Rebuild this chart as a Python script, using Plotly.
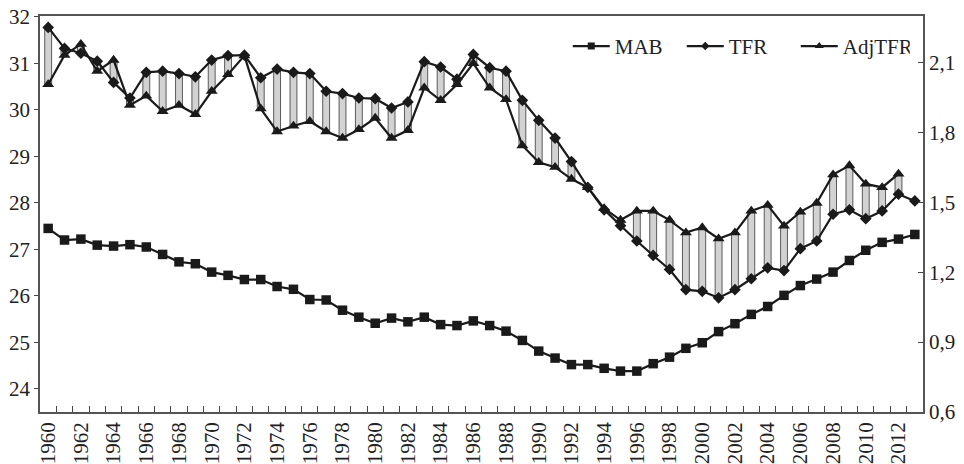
import plotly.graph_objects as go

years = list(range(1960, 2014))

mab = [27.45, 27.20, 27.22, 27.09, 27.07, 27.10, 27.05, 26.89, 26.73, 26.69,
       26.51, 26.44, 26.35, 26.35, 26.20, 26.14, 25.92, 25.91, 25.69, 25.54,
       25.41, 25.52, 25.44, 25.54, 25.38, 25.36, 25.46, 25.36, 25.24, 25.04,
       24.81, 24.66, 24.52, 24.52, 24.44, 24.38, 24.38, 24.54, 24.68, 24.87,
       24.99, 25.23, 25.40, 25.60, 25.77, 26.01, 26.22, 26.36, 26.51, 26.76,
       26.98, 27.15, 27.22, 27.32]

tfr = [2.251, 2.161, 2.140, 2.106, 2.015, 1.948, 2.058, 2.063, 2.053, 2.039,
       2.111, 2.130, 2.132, 2.035, 2.072, 2.058, 2.053, 1.977, 1.967, 1.948,
       1.945, 1.905, 1.931, 2.104, 2.081, 2.029, 2.135, 2.078, 2.063, 1.938,
       1.852, 1.776, 1.675, 1.564, 1.468, 1.400, 1.334, 1.272, 1.212, 1.125,
       1.118, 1.090, 1.125, 1.172, 1.219, 1.207, 1.301, 1.334, 1.449, 1.468,
       1.430, 1.463, 1.535, 1.506]

adj_tfr = [2.006, 2.132, 2.179, 2.063, 2.111, 1.917, 1.957, 1.891, 1.917, 1.878,
           1.977, 2.049, 2.130, 1.902, 1.804, 1.828, 1.848, 1.804, 1.776, 1.813,
           1.862, 1.776, 1.809, 1.992, 1.938, 2.006, 2.097, 1.992, 1.942, 1.744,
           1.672, 1.651, 1.600, 1.564, 1.474, 1.424, 1.463, 1.463, 1.424, 1.370,
           1.392, 1.344, 1.370, 1.463, 1.488, 1.399, 1.459, 1.497, 1.619, 1.658,
           1.579, 1.564, 1.622, None]

series_names = ["MAB", "TFR", "AdjTFR"]
left_ticks = [24, 25, 26, 27, 28, 29, 30, 31, 32]
right_ticks = [0.6, 0.9, 1.2, 1.5, 1.8, 2.1]
right_ticktext = ["0,6", "0,9", "1,2", "1,5", "1,8", "2,1"]
x_ticks = list(range(1960, 2014, 2))

INK = "#1a1a1a"
TXT = "#222"
FONT = "Liberation Serif, Times New Roman, serif"
FS = 21

bar_x, bar_base, bar_h = [], [], []
for y, a, b in zip(years, tfr, adj_tfr):
    if a is None or b is None:
        continue
    bar_x.append(y)
    bar_base.append(min(a, b))
    bar_h.append(abs(a - b))

symbols = ["square", "diamond", "triangle-up"]
sizes = [9.5, 9, 10.5]
legend_sizes = [7, 6.5, 8]

fig = go.Figure()

fig.add_trace(go.Scatter(
    x=years, y=mab, name=series_names[0], mode="lines+markers",
    line=dict(color=INK, width=2.2),
    marker=dict(symbol=symbols[0], size=sizes[0], color=INK),
    yaxis="y", showlegend=False))

fig.add_trace(go.Bar(
    x=bar_x, y=bar_h, base=bar_base, width=0.42, showlegend=False,
    marker=dict(color="#d2d2d2", line=dict(color="#5a5a5a", width=1)),
    yaxis="y2", hoverinfo="skip"))

fig.add_trace(go.Scatter(
    x=years, y=tfr, name=series_names[1], mode="lines+markers",
    line=dict(color=INK, width=2.2),
    marker=dict(symbol=symbols[1], size=sizes[1], color=INK),
    yaxis="y2", showlegend=False))

fig.add_trace(go.Scatter(
    x=years, y=adj_tfr, name=series_names[2], mode="lines+markers",
    line=dict(color=INK, width=2.2),
    marker=dict(symbol=symbols[2], size=sizes[2], color=INK),
    yaxis="y2", showlegend=False))

# legend entries (smaller markers, as in the reference legend)
for nm, sym, sz in zip(series_names, symbols, legend_sizes):
    fig.add_trace(go.Scatter(
        x=[None], y=[None], name=nm, mode="lines+markers",
        line=dict(color=INK, width=2.2),
        marker=dict(symbol=sym, size=sz, color=INK),
        yaxis="y2", showlegend=True))

fig.update_layout(
    width=964, height=464,
    margin=dict(l=40, r=41, t=16, b=52),
    paper_bgcolor="white", plot_bgcolor="white",
    font=dict(family=FONT, size=FS, color=TXT),
    showlegend=True,
    barmode="overlay",
    legend=dict(orientation="h", x=0.985, xanchor="right", y=0.975, yanchor="top",
                bgcolor="rgba(0,0,0,0)", font=dict(family=FONT, size=FS, color=TXT),
                itemwidth=37, tracegroupgap=0, traceorder="normal",
                entrywidth=62),
    xaxis=dict(
        range=[1959.5, 2013.5], tickmode="array", tickvals=x_ticks,
        ticktext=[str(v) for v in x_ticks], tickangle=-90,
        ticks="inside", ticklen=0,
        minor=dict(tickmode="linear", tick0=1959.5, dtick=1, ticks="inside",
                   ticklen=6, tickcolor="#444", tickwidth=1.2),
        showline=True, linecolor="#555", linewidth=1.5, mirror=True,
        showgrid=False, zeroline=False, automargin=False,
        tickfont=dict(family=FONT, size=FS, color=TXT)),
    yaxis=dict(
        range=[23.5, 32.02], tickmode="array", tickvals=left_ticks,
        ticks="outside", ticklen=4, tickcolor="#444",
        showline=True, linecolor="#555", linewidth=1.5,
        showgrid=False, zeroline=False, automargin=False,
        tickfont=dict(family=FONT, size=FS, color=TXT)),
    yaxis2=dict(
        range=[0.6, 2.3], overlaying="y", side="right", tickmode="array",
        tickvals=right_ticks, ticktext=right_ticktext,
        ticks="inside", ticklen=5, tickcolor="#444",
        showline=True, linecolor="#555", linewidth=1.5,
        showgrid=False, zeroline=False, automargin=False,
        tickfont=dict(family=FONT, size=FS, color=TXT)),
)

fig.write_html("out.html", config={"displayModeBar": False},
               post_script="document.body.style.margin='0';document.body.style.overflow='hidden';")
